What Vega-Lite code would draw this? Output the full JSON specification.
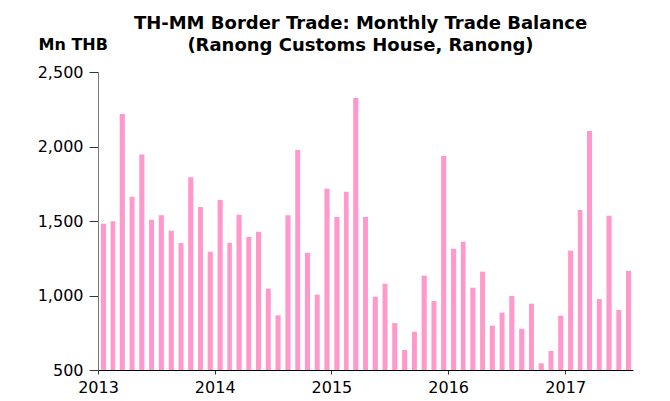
{
  "$schema": "https://vega.github.io/schema/vega-lite/v6.json",
  "width": 535,
  "height": 298,
  "autosize": {"type": "none"},
  "padding": {"left": 98, "top": 72, "right": 37, "bottom": 31},
  "background": "white",
  "title": {
    "text": ["TH-MM Border Trade: Monthly Trade Balance", "(Ranong Customs House, Ranong)"],
    "anchor": "middle",
    "dx": -5,
    "dy": 41,
    "offset": 22,
    "font": "DejaVu Sans",
    "fontSize": 18,
    "fontWeight": "bold",
    "color": "#000000",
    "lineHeight": 22
  },
  "config": {
    "view": {"stroke": null},
    "axis": {
      "labelFont": "DejaVu Sans",
      "labelFontSize": 16,
      "labelColor": "#000000",
      "grid": false
    }
  },
  "data": {
    "values": [
      {"month": "2013-01", "value": 1482},
      {"month": "2013-02", "value": 1498},
      {"month": "2013-03", "value": 2218},
      {"month": "2013-04", "value": 1663},
      {"month": "2013-05", "value": 1947},
      {"month": "2013-06", "value": 1509},
      {"month": "2013-07", "value": 1538},
      {"month": "2013-08", "value": 1435},
      {"month": "2013-09", "value": 1352},
      {"month": "2013-10", "value": 1793},
      {"month": "2013-11", "value": 1594},
      {"month": "2013-12", "value": 1294},
      {"month": "2014-01", "value": 1641},
      {"month": "2014-02", "value": 1354},
      {"month": "2014-03", "value": 1542},
      {"month": "2014-04", "value": 1393},
      {"month": "2014-05", "value": 1428},
      {"month": "2014-06", "value": 1046},
      {"month": "2014-07", "value": 867},
      {"month": "2014-08", "value": 1538},
      {"month": "2014-09", "value": 1976},
      {"month": "2014-10", "value": 1287},
      {"month": "2014-11", "value": 1006},
      {"month": "2014-12", "value": 1717},
      {"month": "2015-01", "value": 1527},
      {"month": "2015-02", "value": 1697},
      {"month": "2015-03", "value": 2325},
      {"month": "2015-04", "value": 1527},
      {"month": "2015-05", "value": 992},
      {"month": "2015-06", "value": 1079},
      {"month": "2015-07", "value": 815},
      {"month": "2015-08", "value": 634},
      {"month": "2015-09", "value": 757},
      {"month": "2015-10", "value": 1133},
      {"month": "2015-11", "value": 963},
      {"month": "2015-12", "value": 1936},
      {"month": "2016-01", "value": 1314},
      {"month": "2016-02", "value": 1361},
      {"month": "2016-03", "value": 1052},
      {"month": "2016-04", "value": 1160},
      {"month": "2016-05", "value": 798},
      {"month": "2016-06", "value": 885},
      {"month": "2016-07", "value": 997},
      {"month": "2016-08", "value": 777},
      {"month": "2016-09", "value": 945},
      {"month": "2016-10", "value": 545},
      {"month": "2016-11", "value": 628},
      {"month": "2016-12", "value": 865},
      {"month": "2017-01", "value": 1301},
      {"month": "2017-02", "value": 1574},
      {"month": "2017-03", "value": 2104},
      {"month": "2017-04", "value": 976},
      {"month": "2017-05", "value": 1536},
      {"month": "2017-06", "value": 903},
      {"month": "2017-07", "value": 1166}
    ]
  },
  "mark": {"type": "bar", "color": "#ff99cc", "width": {"band": 0.62}},
  "encoding": {
    "x": {
      "field": "month",
      "timeUnit": "yearmonth",
      "type": "temporal",
      "scale": {"domain": [{"year": 2013, "month": 1, "date": 1}, {"year": 2017, "month": 8, "date": 1}]},
      "axis": {
        "title": null,
        "values": [{"year": 2013, "month": 1, "date": 1}, {"year": 2014, "month": 1, "date": 1}, {"year": 2015, "month": 1, "date": 1}, {"year": 2016, "month": 1, "date": 1}, {"year": 2017, "month": 1, "date": 1}],
        "format": "%Y",
        "tickSize": 4,
        "labelPadding": 5,
        "labelFlush": false,
        "domainColor": "#000000",
        "tickColor": "#333333"
      }
    },
    "y": {
      "field": "value",
      "type": "quantitative",
      "scale": {"domain": [500, 2500], "zero": false},
      "axis": {
        "title": "Mn THB",
        "titleAngle": 0,
        "titleX": -60,
        "titleY": -23,
        "titleAlign": "left",
        "titleBaseline": "alphabetic",
        "titleFont": "DejaVu Sans",
        "titleFontSize": 16,
        "titleFontWeight": "bold",
        "titleColor": "#000000",
        "values": [500, 1000, 1500, 2000, 2500],
        "format": ",.0f",
        "tickSize": 9,
        "labelPadding": 6,
        "domainColor": "#777777",
        "tickColor": "#333333"
      }
    },
    "y2": {"datum": 500}
  }
}
